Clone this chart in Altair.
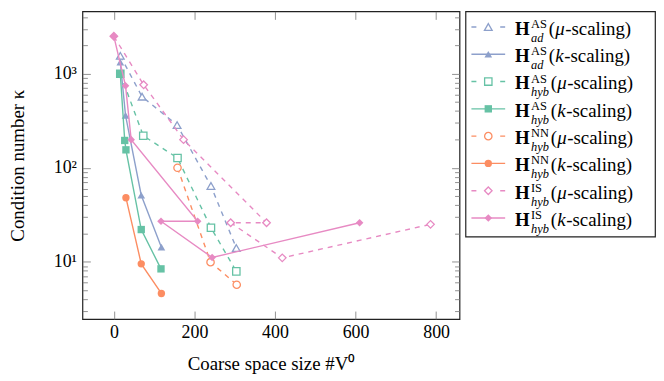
import altair as alt
import pandas as pd

# ---------------- data ----------------
ad_as_mu_x = [16, 70, 157, 241, 304]
ad_as_mu_y = [1550, 570, 284, 64, 14]
ad_as_k_x = [16, 29, 68, 118]
ad_as_k_y = [1330, 360, 51, 14.3]
hyb_as_mu_x = [16, 73, 158, 241, 304]
hyb_as_mu_y = [1000, 219, 127, 23, 7.9]
hyb_as_k_x = [16, 27, 30, 68, 117]
hyb_as_k_y = [1000, 195, 155, 22, 8.4]
hyb_nn_mu_x = [158, 240, 305]
hyb_nn_mu_y = [100, 9.9, 5.7]
hyb_nn_k_x = [30, 68, 118]
hyb_nn_k_y = [48, 9.5, 4.6]
hyb_is_mu_x = [0, 74, 173, 379, 290, 418, 786]
hyb_is_mu_y = [2500, 762, 199, 26, 26, 11, 25]
hyb_is_k_x = [0, 29, 43, 208, 117, 244, 610]
hyb_is_k_y = [2500, 745, 199, 27, 27, 11.1, 26]

series_x = [ad_as_mu_x, ad_as_k_x, hyb_as_mu_x, hyb_as_k_x,
            hyb_nn_mu_x, hyb_nn_k_x, hyb_is_mu_x, hyb_is_k_x]
series_y = [ad_as_mu_y, ad_as_k_y, hyb_as_mu_y, hyb_as_k_y,
            hyb_nn_mu_y, hyb_nn_k_y, hyb_is_mu_y, hyb_is_k_y]

sup_labels = ["AS", "AS", "AS", "AS", "NN", "NN", "IS", "IS"]
sub_labels = ["ad", "ad", "hyb", "hyb", "hyb", "hyb", "hyb", "hyb"]
param_labels = ["μ", "k", "μ", "k", "μ", "k", "μ", "k"]

x_ticks = [0, 200, 400, 600, 800]
y_major = [10, 100, 1000]
y_minor = [3, 4, 5, 6, 7, 8, 9, 20, 30, 40, 50, 60, 70, 80, 90,
           200, 300, 400, 500, 600, 700, 800, 900, 2000, 3000, 4000]

# ---------------- styles ----------------
colors = ["#8da0cb", "#8da0cb", "#66c2a5", "#66c2a5",
          "#fc8d62", "#fc8d62", "#e78ac3", "#e78ac3"]
shapes = ["triangle-up", "triangle-up", "square", "square",
          "circle", "circle", "diamond", "diamond"]
sizes = [60, 60, 55, 55, 55, 55, 58, 58]
dashed = [True, False, True, False, True, False, True, False]
FONT = "Liberation Serif"
W, H = 380, 310

xs = alt.Scale(domain=[-78, 858], nice=False, zero=False)
ys = alt.Scale(type="log", domain=[2.46, 4600], nice=False)

layers = []

# axis layers (labels and inward ticks)
axis_df = pd.DataFrame({"x": [0], "y": [10]})


def axis_layer(xaxis, yaxis):
    return alt.Chart(axis_df).mark_point(opacity=0).encode(
        x=alt.X("x:Q", scale=xs, axis=xaxis),
        y=alt.Y("y:Q", scale=ys, axis=yaxis),
    )


layers.append(axis_layer(
    alt.Axis(orient="bottom", values=x_ticks, ticks=False, tickSize=0, domain=False,
             grid=False, labelPadding=5, title="Coarse space size #V⁰", titlePadding=13,
             labelFlush=False, titleFontSize=19),
    alt.Axis(orient="left", values=y_major, ticks=False, tickSize=0, domain=False,
             grid=False, labelPadding=6, minExtent=30, maxExtent=30,
             labelExpr="datum.value == 10 ? '10¹' : datum.value == 100 ? '10²' : '10³'",
             title="Condition number κ", titlePadding=25, titleFontSize=19),
))
layers.append(axis_layer(
    alt.Axis(orient="bottom", values=x_ticks, offset=-8, tickSize=8, labels=False,
             domain=False, grid=False, title=None, minExtent=0, maxExtent=0),
    alt.Axis(orient="left", values=y_major, offset=-8, tickSize=8, labels=False,
             domain=False, grid=False, title=None, minExtent=0, maxExtent=0),
))
layers.append(axis_layer(
    alt.Axis(orient="top", values=x_ticks, offset=-8, tickSize=8, labels=False,
             domain=False, grid=False, title=None, minExtent=0, maxExtent=0),
    alt.Axis(orient="left", values=y_minor, offset=-5, tickSize=5, labels=False,
             domain=False, grid=False, title=None, minExtent=0, maxExtent=0),
))
layers.append(axis_layer(
    None,
    alt.Axis(orient="right", values=y_major, offset=-8, tickSize=8, labels=False,
             domain=False, grid=False, title=None, minExtent=0, maxExtent=0),
))
layers.append(axis_layer(
    None,
    alt.Axis(orient="right", values=y_minor, offset=-5, tickSize=5, labels=False,
             domain=False, grid=False, title=None, minExtent=0, maxExtent=0),
))

# series layers, drawn in order so later series sit on top
for k in range(8):
    df = pd.DataFrame({"x": series_x[k], "y": series_y[k],
                       "i": list(range(len(series_x[k])))})
    base = alt.Chart(df).encode(
        x=alt.X("x:Q", scale=xs, axis=None),
        y=alt.Y("y:Q", scale=ys, axis=None),
    )
    line_kw = dict(color=colors[k], strokeWidth=1.4)
    if dashed[k]:
        line_kw["strokeDash"] = [5, 5]
    layers.append(base.mark_line(**line_kw).encode(order=alt.Order("i:Q")))
    if dashed[k]:
        layers.append(base.mark_point(shape=shapes[k], size=sizes[k], filled=False,
                                      fill="white", color=colors[k], strokeWidth=1.3,
                                      opacity=1))
    else:
        layers.append(base.mark_point(shape=shapes[k], size=sizes[k], filled=True,
                                      color=colors[k], opacity=1))

main = alt.layer(*layers).resolve_axis(x="independent", y="independent").properties(
    width=W, height=H)

# ---------------- legend panel ----------------
LW, LH = 191, 227
ly = alt.Scale(domain=[-0.571, 7.684], reverse=True, nice=False, zero=False)
leg_layers = []
for k in range(8):
    ldf = pd.DataFrame({"row": [k], "sup": [sup_labels[k]], "sub": [sub_labels[k]],
                        "par": [param_labels[k]]})
    b = alt.Chart(ldf).encode(y=alt.Y("row:Q", scale=ly, axis=None))
    rk = dict(color=colors[k], strokeWidth=1.4)
    if dashed[k]:
        rk["strokeDash"] = [5, 24, 5]
    leg_layers.append(b.mark_rule(**rk).encode(x=alt.value(6), x2=alt.value(40)))
    if dashed[k]:
        leg_layers.append(b.mark_point(shape=shapes[k], size=sizes[k], filled=False,
                                       fill="white", color=colors[k], strokeWidth=1.3,
                                       opacity=1).encode(x=alt.value(23)))
    else:
        leg_layers.append(b.mark_point(shape=shapes[k], size=sizes[k], filled=True,
                                       color=colors[k], opacity=1).encode(x=alt.value(23)))
    txt = dict(font=FONT, color="black", align="left", baseline="alphabetic")
    leg_layers.append(b.mark_text(text="H", fontSize=19, fontWeight="bold", dy=8, **txt)
                      .encode(x=alt.value(50)))
    leg_layers.append(b.mark_text(fontSize=12.5, dy=1, **txt)
                      .encode(x=alt.value(66), text="sup:N"))
    leg_layers.append(b.mark_text(fontSize=12.5, fontStyle="italic", dy=15, **txt)
                      .encode(x=alt.value(66), text="sub:N"))
    p = 84 if sub_labels[k] == "ad" else 86
    wpar = 10 if param_labels[k] == "μ" else 9
    leg_layers.append(b.mark_text(text="(", fontSize=19, dy=8, **txt)
                      .encode(x=alt.value(p)))
    leg_layers.append(b.mark_text(fontSize=19, fontStyle="italic", dy=8, **txt)
                      .encode(x=alt.value(p + 6.5), text="par:N"))
    leg_layers.append(b.mark_text(text="-scaling)", fontSize=19, dy=8, **txt)
                      .encode(x=alt.value(p + 6.5 + wpar)))

legend = alt.layer(*leg_layers).properties(width=LW, height=LH)

chart = alt.hconcat(main, legend, spacing=4).properties(padding=0).configure_view(
    stroke="#222", strokeWidth=1.2
).configure_axis(
    labelFont=FONT, titleFont=FONT, labelFontSize=18, titleFontSize=18,
    labelColor="black", titleColor="black", titleFontWeight="normal",
    tickColor="#777", tickWidth=0.8
)

chart.save("out.html", embed_options={"renderer": "svg", "actions": False})
